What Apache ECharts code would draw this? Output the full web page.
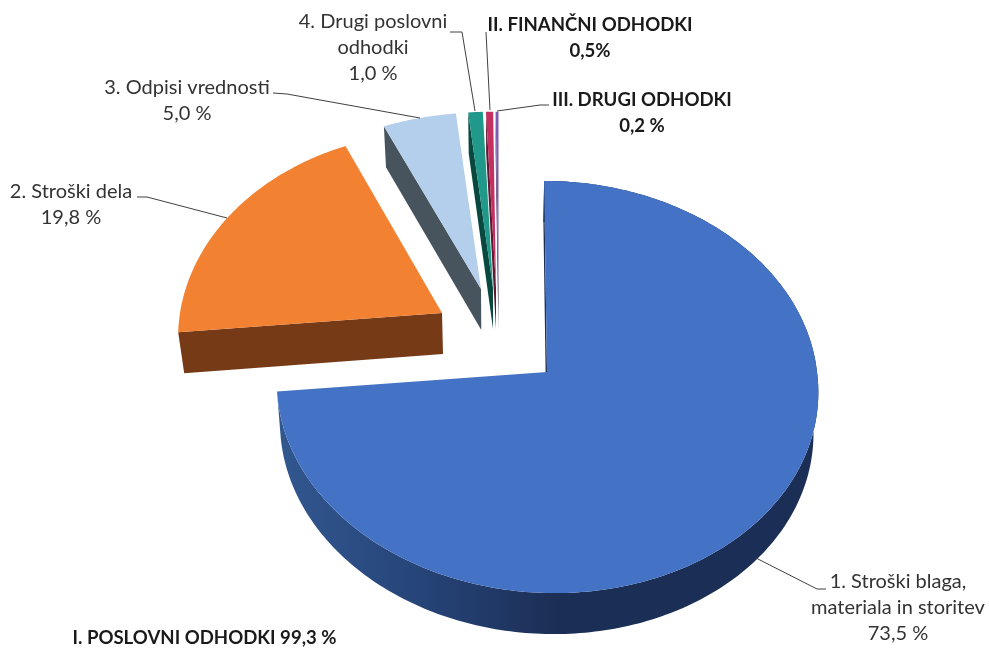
<!DOCTYPE html>
<html>
<head>
<meta charset="utf-8">
<style>html,body{margin:0;padding:0;background:#fff}#c{width:989px;height:648px}</style>
<script src="https://cdn.jsdelivr.net/npm/echarts@6/dist/echarts.min.js"></script>
</head>
<body>
<div id="c"></div>
<script>
// ---- data ----
const categories = ['1. Stroški blaga,\nmateriala in storitev', '2. Stroški dela', '3. Odpisi vrednosti', '4. Drugi poslovni\nodhodki', 'II. FINANČNI ODHODKI', 'III. DRUGI ODHODKI'];
const values = [73.5, 19.8, 5.0, 1.0, 0.5, 0.2];
const valueLabels = ['73,5 %', '19,8 %', '5,0 %', '1,0 %', '0,5%', '0,2 %'];
const groupLabel = 'I. POSLOVNI ODHODKI 99,3 %';

// ---- styles and layout ----
const topColors = ['#4472c4', '#f28132', '#b4cfeb', '#20988a', '#c43061', '#7d5cb0'];
const sideColors = ['#1b2e55', '#763a17', '#47545e', '#08483f', '#5e1a30', '#3c2a58'];
const boldLabels = [false, false, false, false, true, true];
const drawOrder = [5, 4, 3, 2, 1, 0];
// projected slice placement: apex, radii, perspective strength, edge convergence, camera skew
const apexX = [547, 442, 481, 493, 496, 498.5];
const apexY = [372, 313, 289, 288, 288, 288];
const radiusX = [270, 262, 268, 265, 260, 260];
const radiusY = [205, 203, 201, 201, 201, 201];
const persp = [0.0728, 0.12, 0.14, 0.14, 0.14, 0.14];
const converge = [0.015, 0.019, 0.019, 0.019, 0.019, 0.019];
const skewBack = [0.015, 0, 0, 0, 0, 0];
const skewFront = [0.035, 0, 0, 0, 0, 0];
const DEPTH = 41, VANISH_X = 495;
const labelX = [898, 71, 187, 373, 590, 642];
const labelY = [582, 192, 88, 22, 25, 100];
const LINE_H = 26;
const leaders = [
  [[756, 558], [817, 589], [826, 589]],
  [[137, 197], [147, 197], [227, 218]],
  [[273, 93], [287, 94], [420, 118]],
  [[450, 32], [462, 32], [475, 111]],
  [[486, 32], [490, 110]],
  [[549, 105], [540, 105], [497, 111]]
];

const total = values.reduce((a, b) => a + b, 0);

function pt(i, turn, r) {
  const a = turn * 2 * Math.PI, u = Math.sin(a) * r, v = -Math.cos(a) * r;
  const w = 1 - persp[i] * v;
  const dy = radiusY[i] * v / w;
  const skew = (dy < 0 ? skewBack[i] : skewFront[i]) * dy;
  return [apexX[i] + radiusX[i] * u / w + skew, apexY[i] + dy];
}
function drop(i, p) { return [p[0] + (VANISH_X - p[0]) * converge[i], p[1] + DEPTH]; }

function renderSlice(params, api) {
  const i = params.dataIndex;
  let before = 0;
  for (let k = 0; k < i; k++) before += values[k];
  const t0 = before / total, t1 = (before + api.value(0)) / total;
  const n = Math.max(4, Math.ceil((t1 - t0) * 360));
  const arc = [];
  for (let k = 0; k <= n; k++) arc.push(pt(i, t0 + (t1 - t0) * k / n, 1));
  const apex = pt(i, 0, 0);
  const z = drawOrder[i] * 4;
  const children = [];
  // radial cut face
  children.push({
    type: 'polygon', z2: z + 1,
    shape: { points: [arc[0], apex, drop(i, apex), drop(i, arc[0])] },
    style: { fill: sideColors[i] }
  });
  // outer rim, only the main slice shows it
  if (i === 0) {
    children.push({
      type: 'polygon', z2: z,
      shape: { points: arc.concat(arc.map(p => drop(i, p)).reverse()) },
      style: {
        fill: {
          type: 'linear', global: true, x: 282, y: 0, x2: 560, y2: 0,
          colorStops: [{ offset: 0, color: '#31578f' }, { offset: 0.5, color: '#264478' }, { offset: 1, color: sideColors[0] }]
        }
      }
    });
  }
  // top face
  children.push({
    type: 'polygon', z2: z + 2,
    shape: { points: [apex].concat(arc) },
    style: { fill: topColors[i] }
  });
  return { type: 'group', children };
}

const FONT = 'Lato, Carlito, "Open Sans", sans-serif';
const REGULAR_PX = 20, BOLD_PX = 18.6;
const graphics = [];
categories.forEach((name, i) => {
  graphics.push({
    type: 'polyline', shape: { points: leaders[i] }, z: 5,
    style: { stroke: '#404040', lineWidth: 1, fill: null }
  });
  const lines = name.split('\n').concat(valueLabels[i]);
  lines.forEach((line, j) => {
    graphics.push({
      type: 'text', x: labelX[i], y: labelY[i] + j * LINE_H, z: 6,
      style: {
        text: line, align: 'center', verticalAlign: 'middle',
        font: boldLabels[i] ? 'bold ' + BOLD_PX + 'px ' + FONT : REGULAR_PX + 'px ' + FONT,
        fill: boldLabels[i] ? '#1a1a1a' : '#333333'
      }
    });
  });
});
graphics.push({
  type: 'text', x: 204.5, y: 638, z: 6,
  style: { text: groupLabel, align: 'center', verticalAlign: 'middle', font: 'bold ' + BOLD_PX + 'px ' + FONT, fill: '#1a1a1a' }
});

const chart = echarts.init(document.getElementById('c'), null, { renderer: 'canvas' });
chart.setOption({
  animation: false,
  backgroundColor: '#ffffff',
  series: [{
    type: 'custom',
    coordinateSystem: 'none',
    renderItem: renderSlice,
    data: values.map((v, i) => ({ name: categories[i], value: [v] }))
  }],
  graphic: graphics
});
</script>
</body>
</html>
